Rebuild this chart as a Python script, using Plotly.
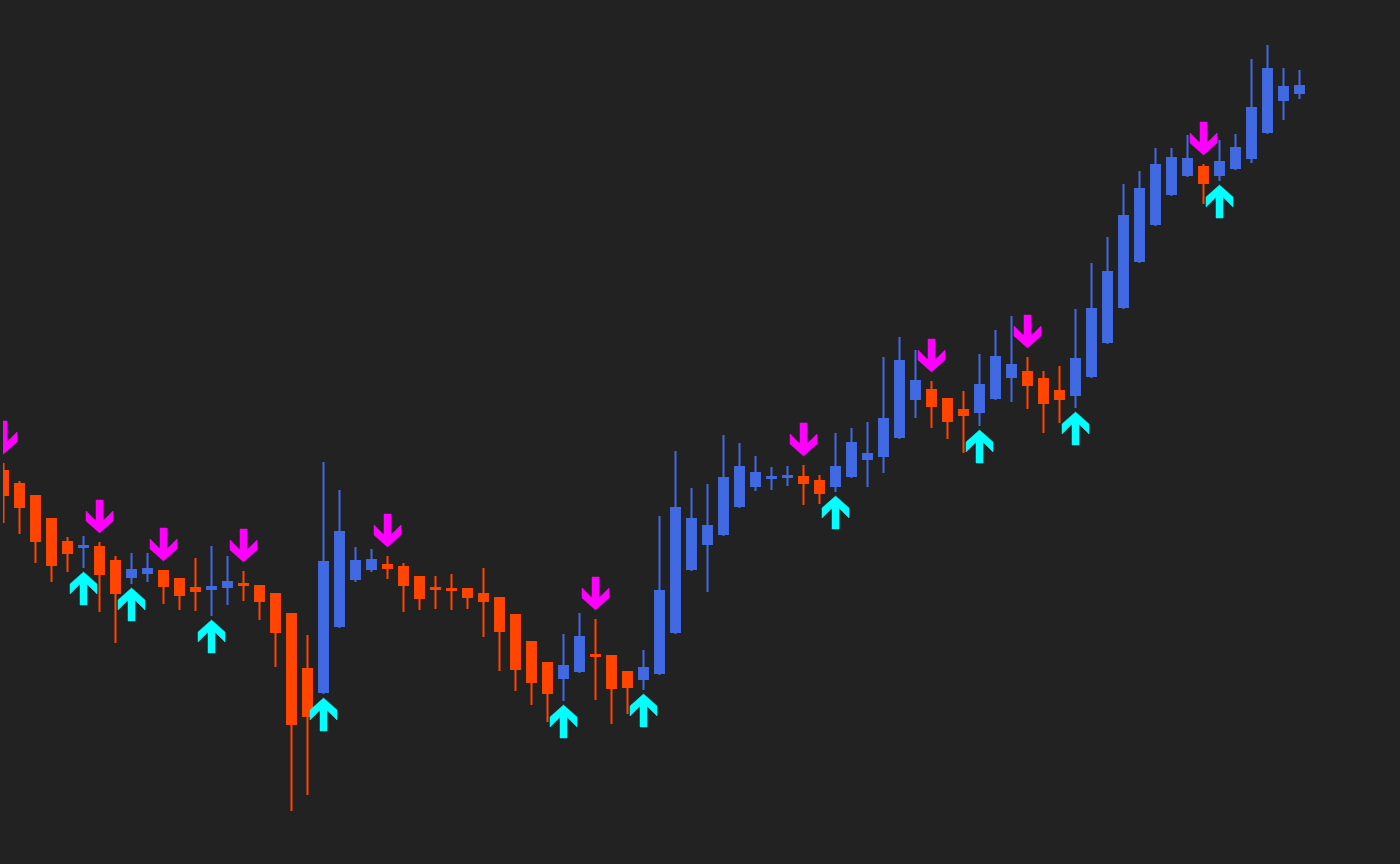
import plotly.graph_objects as go

# OHLC values (one per bar)
opens = [393, 380, 368, 345, 322, 317, 317, 303, 287, 291, 293, 285, 276, 275, 277, 280,
         278, 270, 250, 195, 172, 238, 285, 295, 299, 297, 287, 276, 275, 275, 270, 266,
         249, 222, 201, 186, 193, 209, 208, 192, 185, 191, 232, 295, 320, 330, 358, 378,
         386, 387, 387, 383, 378, 388, 405, 408, 427, 465, 474, 465, 454, 452, 466, 487,
         492, 485, 473, 469, 488, 522, 557, 603, 640, 670, 689, 697, 689, 696, 706, 732,
         764, 771]
highs = [401, 383, 369, 346, 327, 328, 322, 308, 311, 311, 294, 286, 306, 318, 308, 293,
         279, 271, 251, 229, 402, 374, 317, 315, 308, 301, 288, 288, 290, 276, 296, 267,
         250, 223, 202, 230, 251, 245, 209, 193, 214, 348, 413, 376, 380, 429, 421, 408,
         397, 398, 399, 389, 431, 436, 442, 507, 527, 514, 483, 466, 473, 510, 534, 548,
         507, 493, 498, 555, 601, 627, 680, 693, 716, 716, 729, 700, 724, 730, 805, 819,
         796, 794]
lows = [341, 330, 301, 282, 292, 296, 252, 221, 280, 282, 260, 254, 253, 248, 259, 263,
        244, 197, 53, 69, 170, 236, 282, 292, 285, 252, 254, 255, 254, 255, 227, 193,
        173, 159, 142, 163, 191, 164, 140, 150, 174, 189, 230, 293, 272, 328, 356, 373,
        374, 378, 359, 360, 372, 386, 377, 391, 425, 446, 436, 425, 411, 438, 464, 462,
        455, 431, 441, 456, 486, 520, 555, 601, 638, 668, 687, 660, 683, 694, 701, 730,
        744, 765]
closes = [369, 357, 323, 299, 311, 318, 290, 271, 294, 295, 278, 269, 273, 277, 282, 279,
          263, 232, 140, 148, 302, 332, 303, 304, 296, 279, 266, 275, 274, 267, 263, 233,
          195, 182, 171, 198, 227, 208, 176, 177, 196, 273, 356, 345, 338, 386, 397, 391,
          387, 388, 381, 371, 397, 421, 410, 445, 503, 483, 458, 443, 449, 479, 507, 499,
          479, 461, 465, 505, 555, 592, 648, 675, 699, 706, 705, 681, 702, 716, 756, 795,
          777, 778]

# signal bars
sell_signals = [0, 6, 10, 15, 24, 37, 50, 58, 64, 75]
buy_signals = [5, 8, 13, 20, 35, 40, 52, 61, 67, 76]

UP_COLOR = "#4169E1"
DOWN_COLOR = "#FF4500"
SELL_COLOR = "#FF00FF"
BUY_COLOR = "#00FFFF"
BG = "#222222"

x = list(range(len(opens)))

fig = go.Figure()
fig.add_trace(go.Candlestick(
    x=x, open=opens, high=highs, low=lows, close=closes,
    increasing=dict(line=dict(color=UP_COLOR, width=2), fillcolor=UP_COLOR),
    decreasing=dict(line=dict(color=DOWN_COLOR, width=2), fillcolor=DOWN_COLOR),
    whiskerwidth=0, hoverinfo="skip", showlegend=False,
))

# arrow geometry (x in bar units, y in price units)
S = 3.5 / 16   # half shaft width
W = 13.5 / 16  # half head width
HEAD = 12
VERT = 22
LEN = 33


def arrow(i, tip, direction):
    d = direction  # +1 -> pointing up, -1 -> pointing down
    pts = [
        (i, tip),
        (i + W, tip - d * HEAD),
        (i + W, tip - d * VERT),
        (i + S, tip - d * HEAD),
        (i + S, tip - d * LEN),
        (i - S, tip - d * LEN),
        (i - S, tip - d * HEAD),
        (i - W, tip - d * VERT),
        (i - W, tip - d * HEAD),
        (i, tip),
    ]
    return pts


sx, sy = [], []
for i in sell_signals:
    for px, py in arrow(i, highs[i] + 9, -1):
        sx.append(px)
        sy.append(py)
    sx.append(None)
    sy.append(None)

bx, by = [], []
for i in buy_signals:
    for px, py in arrow(i, lows[i] - 4, 1):
        bx.append(px)
        by.append(py)
    bx.append(None)
    by.append(None)

fig.add_trace(go.Scatter(x=sx, y=sy, mode="lines", fill="toself", fillcolor=SELL_COLOR,
                         line=dict(color=SELL_COLOR, width=0.5), hoverinfo="skip",
                         showlegend=False))
fig.add_trace(go.Scatter(x=bx, y=by, mode="lines", fill="toself", fillcolor=BUY_COLOR,
                         line=dict(color=BUY_COLOR, width=0.5), hoverinfo="skip",
                         showlegend=False))

fig.update_layout(
    width=1400, height=864,
    margin=dict(l=3, r=0, t=0, b=0),
    paper_bgcolor=BG, plot_bgcolor=BG,
    showlegend=False, hovermode=False,
    boxgap=0.44, boxgroupgap=0,
    xaxis=dict(range=[-0.03125, 87.28125], visible=False, showgrid=False,
               zeroline=False, rangeslider=dict(visible=False)),
    yaxis=dict(range=[0, 864], visible=False, showgrid=False, zeroline=False),
)

fig.write_html("out.html", config={"displayModeBar": False},
               post_script="document.body.style.margin='0';document.body.style.background='#222222';")
